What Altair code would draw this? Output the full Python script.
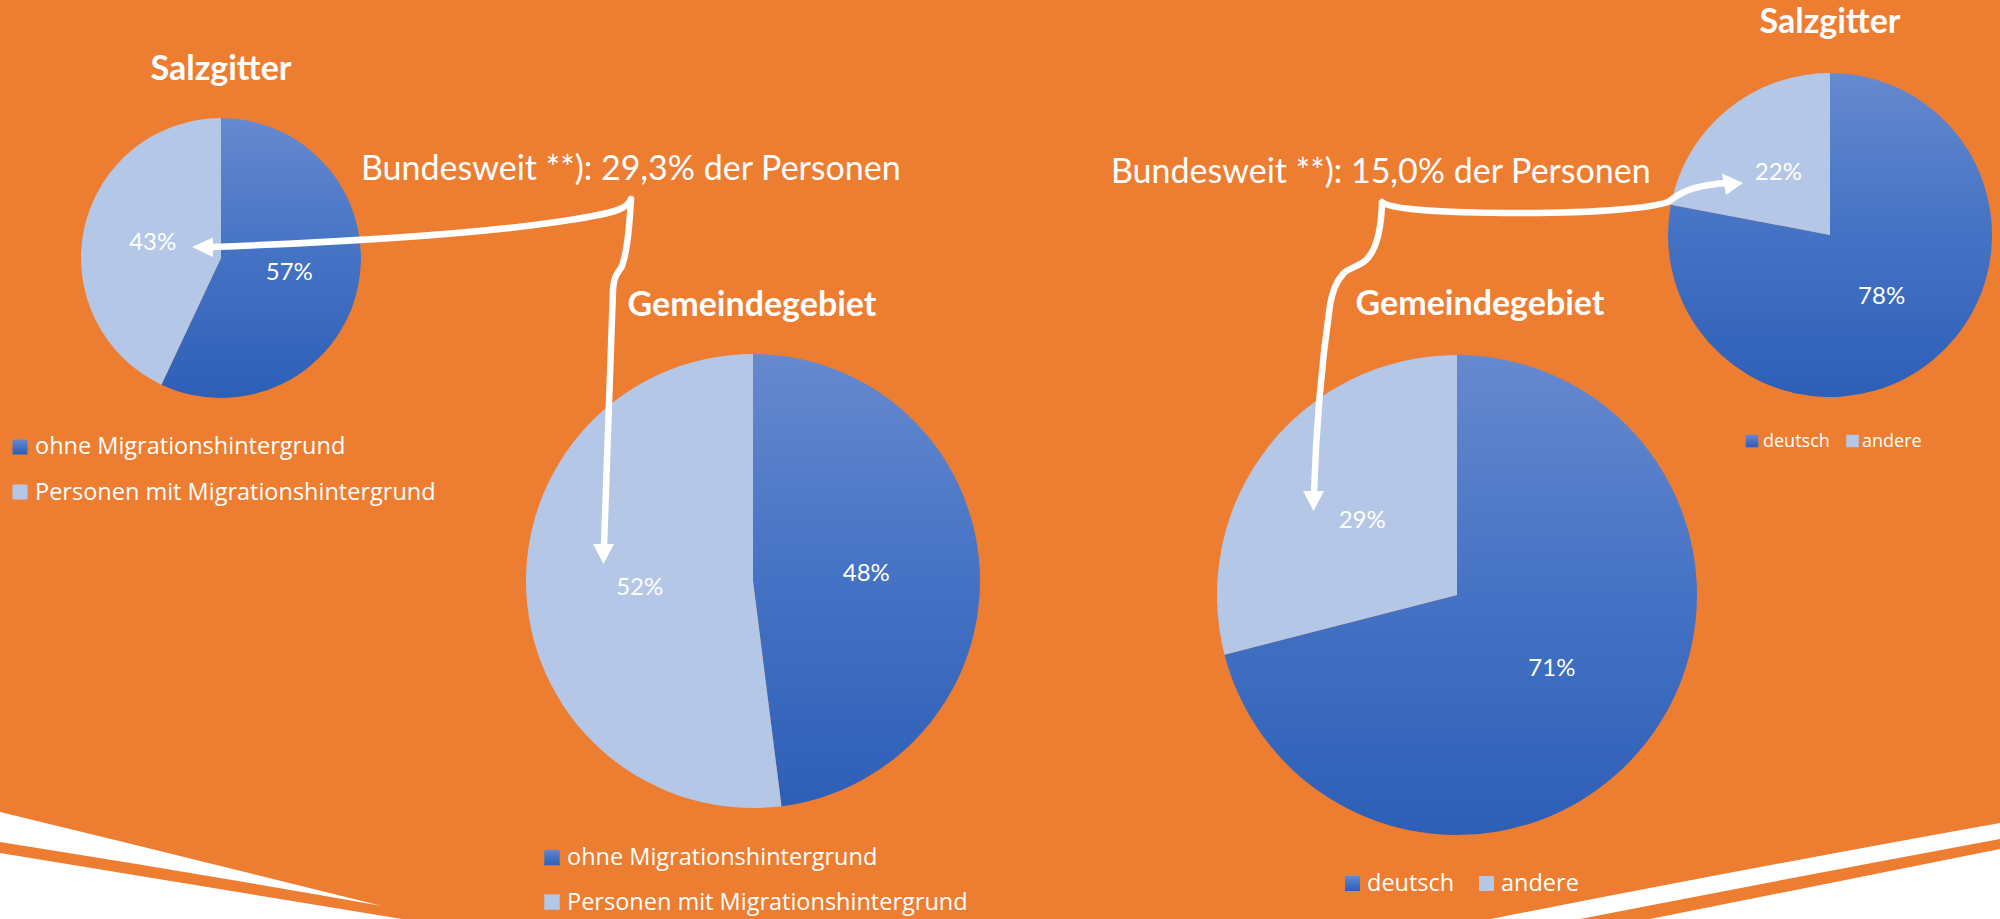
import math
import altair as alt
import pandas as pd

# ---------------- data ----------------
mig_cats = ["ohne Migrationshintergrund", "Personen mit Migrationshintergrund"]
mig_salzgitter = [57, 43]
mig_gemeinde = [48, 52]

nat_cats = ["deutsch", "andere"]
nat_salzgitter = [78, 22]
nat_gemeinde = [71, 29]

title_salzgitter = "Salzgitter"
title_gemeinde = "Gemeindegebiet"
note_mig = "Bundesweit **): 29,3% der Personen"
note_nat = "Bundesweit **): 15,0% der Personen"

# ---------------- styles ----------------
FONT = "Lato"
LEGEND_FONT = "Open Sans"
ORANGE = "#ED7D31"
LIGHT = "#B4C7E7"
GRAD = alt.LinearGradient(
    gradient="linear",
    stops=[
        alt.GradientStop(color="#6689CF", offset=0),
        alt.GradientStop(color="#4472C4", offset=0.5),
        alt.GradientStop(color="#2E5FB7", offset=1),
    ],
    x1=0, x2=0, y1=0, y2=1,
)

def theta_scale(vals):
    return alt.Scale(domain=[0, sum(vals)], range=[0, 2 * math.pi])


def pie(cats, vals, cx, cy, r):
    df = pd.DataFrame({"cat": cats, "val": vals, "idx": list(range(len(cats)))})
    base = (
        alt.Chart(df)
        .transform_joinaggregate(total="sum(val)")
        .transform_window(cum="sum(val)", sort=[alt.SortField("idx")], frame=[None, 0])
        .transform_calculate(
            start="datum.cum - datum.val",
            mid="datum.cum - datum.val / 2",
            pct="format(datum.val / datum.total, '.0%')",
        )
    )
    fill = alt.condition(alt.datum.idx == 0, alt.value(GRAD), alt.value(LIGHT))
    arcs = base.mark_arc(radius=r).encode(
        theta=alt.Theta("start:Q", scale=theta_scale(vals)),
        theta2="cum:Q",
        x=alt.value(cx),
        y=alt.value(cy),
        fill=fill,
    )
    labels = base.mark_text(
        radius=0.5 * r, font=FONT, fontSize=24, color="white",
        align="center", baseline="middle",
    ).encode(
        theta=alt.Theta("mid:Q", scale=theta_scale(vals)),
        x=alt.value(cx),
        y=alt.value(cy),
        text="pct:N",
    )
    return [arcs, labels]


def text(txt, x, y, size, weight="normal", align="left"):
    return (
        alt.Chart(pd.DataFrame({"t": [txt]}))
        .mark_text(font=FONT, fontSize=size, fontWeight=weight, color="white",
                   align=align, baseline="alphabetic")
        .encode(text="t:N", x=alt.value(x), y=alt.value(y))
    )


def legend(cats, mx, my, tx, ty, side, fsize):
    df = pd.DataFrame({"cat": cats, "idx": list(range(len(cats))),
                       "mx": mx, "my": my, "tx": tx, "ty": ty})
    markers = alt.Chart(df).mark_square(size=side * side, opacity=1, strokeWidth=0).encode(
        x=alt.X("mx:Q", scale=None, axis=None),
        y=alt.Y("my:Q", scale=None, axis=None),
        fill=alt.condition(alt.datum.idx == 0, alt.value(GRAD), alt.value(LIGHT)),
    )
    labels = alt.Chart(df).mark_text(font=LEGEND_FONT, fontSize=fsize, color="white",
                                     align="left", baseline="alphabetic").encode(
        x=alt.X("tx:Q", scale=None, axis=None),
        y=alt.Y("ty:Q", scale=None, axis=None),
        text="cat:N",
    )
    return [markers, labels]


def shape(path, filled, stroke_width=0):
    one = pd.DataFrame({"k": [0]})
    if filled:
        m = alt.Chart(one).mark_point(shape=path, size=4, filled=True, fill="white",
                                      strokeWidth=0, opacity=1)
    else:
        m = alt.Chart(one).mark_point(shape=path, size=4, filled=False, stroke="white",
                                      strokeWidth=stroke_width, opacity=1,
                                      strokeJoin="round", strokeCap="round")
    return m.encode(x=alt.value(0), y=alt.value(0))


# decorative white bands at the bottom
band_left = "M0,812 Q190,858 382,906 Q190,872 0,842 Z M0,853 L402,919 L0,919 Z"
band_right = ("M2000,823 Q1760,866 1491,919 L1580,919 Q1790,878 2000,839 Z "
              "M2000,849 L1650,919 L2000,919 Z")

# annotation arrows
arrow1 = ("M631,199 C628,208 615,212 593,216 C520,230 400,240 212,247 "
          "M631,199 C629,235 626,258 621,268 C617,274 614,276 613,290 L604,546")
arrow1_heads = "M192,247 L213,237.5 L213,257 Z M593,544 L614,544 L603.5,564 Z"
arrow2 = ("M1382,202 C1390,210 1450,213 1520,213 C1600,213 1650,208 1668,202 "
          "C1680,193 1690,186 1725,183 "
          "M1382,203 C1381,235 1375,255 1362,263 C1352,269 1347,269 1343,274 "
          "C1336,282 1333,290 1330,305 C1325,340 1317,400 1314,493")
arrow2_heads = "M1743,183 L1722,173.5 L1726,195 Z M1303,491 L1324,491 L1313.5,511 Z"

layers = []
layers += [shape(band_left, True), shape(band_right, True)]
layers += pie(mig_cats, mig_salzgitter, 221, 258, 140)
layers += pie(mig_cats, mig_gemeinde, 753, 581, 227)
layers += pie(nat_cats, nat_salzgitter, 1830, 235, 162)
layers += pie(nat_cats, nat_gemeinde, 1457, 595, 240)
layers += [shape(arrow1, False, 6.5), shape(arrow1_heads, True),
           shape(arrow2, False, 6.5), shape(arrow2_heads, True)]
layers += [
    text(title_salzgitter, 221, 80, 34, "bold", "center"),
    text(title_gemeinde, 752, 316, 34, "bold", "center"),
    text(title_salzgitter, 1830, 33, 34, "bold", "center"),
    text(title_gemeinde, 1480, 315, 34, "bold", "center"),
    text(note_mig, 361, 180, 34),
    text(note_nat, 1111, 183, 34),
]
layers += legend(mig_cats, [20, 20], [447, 492], [35, 35], [454, 500], 15, 23.5)
layers += legend(mig_cats, [552, 552], [857.5, 902], [567, 567], [865, 910], 15.5, 23.5)
layers += legend(nat_cats, [1752, 1852.5], [441, 441], [1763, 1862], [447, 447], 12.5, 18)
layers += legend(nat_cats, [1352.5, 1486.5], [883.5, 883.5], [1367, 1501], [891, 891], 15, 23.5)

chart = (
    alt.layer(*layers)
    .properties(width=2000, height=919, padding=0, background=ORANGE,
                autosize=alt.AutoSizeParams(type="none"))
    .configure_view(stroke=None)
)

chart.save("out.html", embed_options={"renderer": "svg", "actions": False})
